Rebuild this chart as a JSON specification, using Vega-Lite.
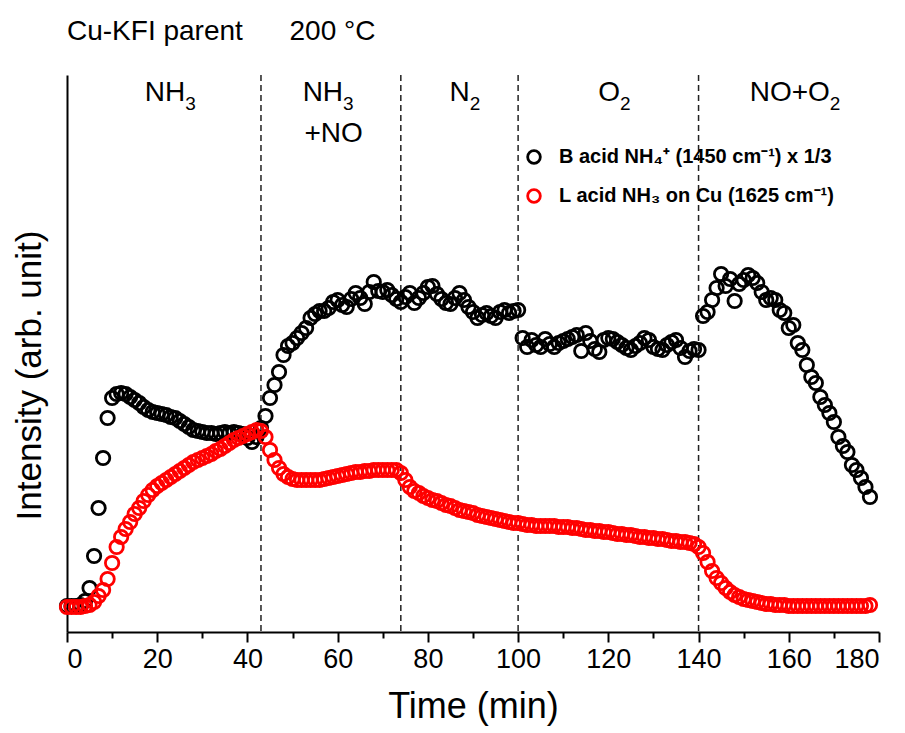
{
  "$schema": "https://vega.github.io/schema/vega-lite/v6.json",
  "width": 812,
  "height": 557,
  "autosize": {"type": "none"},
  "padding": {"left": 67, "top": 75, "right": 26, "bottom": 101},
  "background": "white",
  "title": {"text": "Cu-KFI parent\u00a0\u00a0\u00a0\u00a0\u00a0\u00a0200 °C", "anchor": "start", "frame": "group", "fontSize": 28, "fontWeight": "normal", "font": "Liberation Sans", "color": "#000000", "offset": 28},
  "config": {
    "view": {"stroke": null},
    "font": "Liberation Sans"
  },
  "datasets": {
    "pts": [
      {"t":0,"B":26,"L":25},{"t":1,"B":26,"L":25},{"t":2,"B":26,"L":25},{"t":3,"B":27,"L":25},{"t":4,"B":31,"L":26},
      {"t":5,"B":44,"L":27},{"t":6,"B":76,"L":30},{"t":7,"B":124,"L":36},{"t":8,"B":174,"L":42},{"t":9,"B":214,"L":53},
      {"t":10,"B":234,"L":69},{"t":11,"B":238,"L":85},{"t":12,"B":239,"L":95},{"t":13,"B":238,"L":103},{"t":14,"B":235,"L":110},
      {"t":15,"B":232,"L":118},{"t":16,"B":229,"L":124},{"t":17,"B":225,"L":131},{"t":18,"B":222,"L":137},{"t":19,"B":220,"L":142},
      {"t":20,"B":219,"L":146},{"t":21,"B":218,"L":149},{"t":22,"B":217,"L":152},{"t":23,"B":215,"L":155},{"t":24,"B":214,"L":158},
      {"t":25,"B":211,"L":161},{"t":26,"B":208,"L":164},{"t":27,"B":205,"L":167},{"t":28,"B":202,"L":170},{"t":29,"B":201,"L":172},
      {"t":30,"B":200,"L":174},{"t":31,"B":199,"L":176},{"t":32,"B":199,"L":178},{"t":33,"B":198,"L":181},{"t":34,"B":199,"L":183},
      {"t":35,"B":200,"L":186},{"t":36,"B":199,"L":189},{"t":37,"B":200,"L":192},{"t":38,"B":199,"L":194},{"t":39,"B":198,"L":196},
      {"t":40,"B":194,"L":198},{"t":41,"B":190,"L":200},{"t":42,"B":195,"L":202},{"t":43,"B":204,"L":201},{"t":44,"B":216,"L":195},
      {"t":45,"B":234,"L":182},{"t":46,"B":247,"L":172},{"t":47,"B":260,"L":164},{"t":48,"B":277,"L":158},{"t":49,"B":286,"L":155},
      {"t":50,"B":289,"L":153},{"t":51,"B":294,"L":152},{"t":52,"B":299,"L":152},{"t":53,"B":304,"L":152},{"t":54,"B":314,"L":152},
      {"t":55,"B":318,"L":152},{"t":56,"B":321,"L":152},{"t":57,"B":321,"L":153},{"t":58,"B":324,"L":154},{"t":59,"B":330,"L":155},
      {"t":60,"B":332,"L":156},{"t":61,"B":327,"L":157},{"t":62,"B":325,"L":158},{"t":63,"B":333,"L":159},{"t":64,"B":339,"L":160},
      {"t":65,"B":334,"L":160},{"t":66,"B":328,"L":161},{"t":67,"B":340,"L":161},{"t":68,"B":350,"L":162},{"t":69,"B":341,"L":162},
      {"t":70,"B":340,"L":162},{"t":71,"B":342,"L":162},{"t":72,"B":337,"L":162},{"t":73,"B":333,"L":162},{"t":74,"B":330,"L":159},
      {"t":75,"B":335,"L":152},{"t":76,"B":339,"L":145},{"t":77,"B":329,"L":141},{"t":78,"B":334,"L":139},{"t":79,"B":339,"L":136},
      {"t":80,"B":345,"L":134},{"t":81,"B":346,"L":132},{"t":82,"B":338,"L":131},{"t":83,"B":333,"L":129},{"t":84,"B":329,"L":127},
      {"t":85,"B":328,"L":126},{"t":86,"B":334,"L":124},{"t":87,"B":339,"L":122},{"t":88,"B":332,"L":121},{"t":89,"B":325,"L":120},
      {"t":90,"B":320,"L":119},{"t":91,"B":314,"L":117},{"t":92,"B":317,"L":116},{"t":93,"B":319,"L":115},{"t":94,"B":316,"L":114},
      {"t":95,"B":314,"L":113},{"t":96,"B":320,"L":112},{"t":97,"B":322,"L":111},{"t":98,"B":319,"L":110},{"t":99,"B":321,"L":109},
      {"t":100,"B":322,"L":109},{"t":101,"B":294,"L":108},{"t":102,"B":285,"L":107},{"t":103,"B":292,"L":107},{"t":104,"B":287,"L":106},
      {"t":105,"B":285,"L":106},{"t":106,"B":293,"L":106},{"t":107,"B":288,"L":106},{"t":108,"B":285,"L":106},{"t":109,"B":289,"L":105},
      {"t":110,"B":291,"L":105},{"t":111,"B":293,"L":105},{"t":112,"B":295,"L":104},{"t":113,"B":297,"L":104},{"t":114,"B":281,"L":103},
      {"t":115,"B":299,"L":102},{"t":116,"B":291,"L":102},{"t":117,"B":283,"L":101},{"t":118,"B":280,"L":101},{"t":119,"B":292,"L":100},
      {"t":120,"B":294,"L":100},{"t":121,"B":293,"L":99},{"t":122,"B":290,"L":98},{"t":123,"B":287,"L":98},{"t":124,"B":284,"L":97},
      {"t":125,"B":282,"L":97},{"t":126,"B":286,"L":96},{"t":127,"B":289,"L":95},{"t":128,"B":294,"L":95},{"t":129,"B":292,"L":94},
      {"t":130,"B":285,"L":94},{"t":131,"B":283,"L":93},{"t":132,"B":282,"L":93},{"t":133,"B":287,"L":92},{"t":134,"B":290,"L":91},
      {"t":135,"B":292,"L":91},{"t":136,"B":284,"L":90},{"t":137,"B":275,"L":90},{"t":138,"B":281,"L":89},{"t":139,"B":283,"L":88},
      {"t":140,"B":282,"L":85},{"t":141,"B":316,"L":79},{"t":142,"B":320,"L":70},{"t":143,"B":332,"L":61},{"t":144,"B":344,"L":54},
      {"t":145,"B":358,"L":49},{"t":146,"B":346,"L":44},{"t":147,"B":353,"L":40},{"t":148,"B":331,"L":37},{"t":149,"B":348,"L":35},
      {"t":150,"B":352,"L":33},{"t":151,"B":357,"L":32},{"t":152,"B":354,"L":31},{"t":153,"B":349,"L":30},{"t":154,"B":340,"L":29},
      {"t":155,"B":332,"L":28},{"t":156,"B":334,"L":28},{"t":157,"B":332,"L":27},{"t":158,"B":322,"L":27},{"t":159,"B":319,"L":27},
      {"t":160,"B":304,"L":26},{"t":161,"B":307,"L":26},{"t":162,"B":289,"L":26},{"t":163,"B":282,"L":26},{"t":164,"B":267,"L":26},
      {"t":165,"B":255,"L":26},{"t":166,"B":249,"L":26},{"t":167,"B":235,"L":26},{"t":168,"B":227,"L":26},{"t":169,"B":219,"L":26},
      {"t":170,"B":210,"L":26},{"t":171,"B":195,"L":26},{"t":172,"B":186,"L":26},{"t":173,"B":180,"L":26},{"t":174,"B":167,"L":26},
      {"t":175,"B":162,"L":26},{"t":176,"B":154,"L":26},{"t":177,"B":145,"L":26},{"t":178,"B":135,"L":27}
    ],
    "lines": [{"t":43},{"t":74},{"t":100},{"t":140}],
    "phases": [
      {"t":26.2,"main":"NH","sub":"3"},
      {"t":61.2,"main":"NH","sub":"3"},
      {"t":89.3,"main":"N","sub":"2"},
      {"t":122.6,"main":"O","sub":"2"},
      {"t":169.1,"main":"NO+O","sub":"2"}
    ],
    "extra": [
      {"t":59.1,"label":"+NO"}
    ]
  },
  "layer": [
    {
      "data": {"name": "lines"},
      "mark": {"type": "rule", "strokeDash": [6, 4], "strokeWidth": 1.5, "color": "#222222"},
      "encoding": {
        "x": {"field": "t", "type": "quantitative", "scale": {"domain": [0, 180], "nice": false, "zero": false}}
      }
    },
    {
      "data": {"name": "pts"},
      "mark": {"type": "point", "shape": "circle", "filled": false, "size": 180, "strokeWidth": 2.8, "opacity": 1},
      "encoding": {
        "x": {"field": "t", "type": "quantitative", "scale": {"domain": [0, 180], "nice": false, "zero": false},
          "axis": {
            "values": [0,10,20,30,40,50,60,70,80,90,100,110,120,130,140,150,160,170,180],
            "labelExpr": "datum.value % 20 === 0 ? datum.label : ''",
            "tickSize": {"condition": {"test": "datum.value % 20 === 0", "value": 10}, "value": 6},
            "tickWidth": 2, "tickColor": "#000000",
            "domainWidth": 2, "domainColor": "#000000",
            "labelFontSize": 27, "labelColor": "#000000", "labelPadding": 4, "labelFont": "Liberation Sans",
            "grid": false,
            "title": "Time (min)", "titleFontSize": 36, "titleFontWeight": "normal", "titleColor": "#000000", "titlePadding": 17, "titleFont": "Liberation Sans"
          }},
        "y": {"field": "B", "type": "quantitative", "scale": {"domain": [0, 557], "nice": false, "zero": false},
          "axis": {
            "ticks": false, "labels": false, "grid": false,
            "domainWidth": 2, "domainColor": "#000000",
            "title": "Intensity (arb. unit)", "titleFontSize": 35, "titleFontWeight": "normal", "titleColor": "#000000",
            "titleFont": "Liberation Sans", "titleX": -38, "titleY": 300, "titleBaseline": "middle", "titleAlign": "center", "titleAngle": -90
          }},
        "color": {"datum": "B", "type": "nominal",
          "scale": {"domain": ["B", "L"], "range": ["#000000", "#ff0000"]},
          "legend": {
            "title": null, "orient": "none", "legendX": 457, "legendY": 72,
            "padding": 0, "rowPadding": 15, "symbolType": "circle", "symbolSize": 160, "symbolStrokeWidth": 2.8,
            "symbolFillColor": "transparent",
            "labelFontSize": 20, "labelFontWeight": "bold", "labelFont": "Liberation Sans", "labelOffset": 15, "labelLimit": 500,
            "labelExpr": "datum.value == 'B' ? 'B acid NH₄⁺ (1450 cm⁻¹) x 1/3' : 'L acid NH₃ on Cu (1625 cm⁻¹)'",
            "encode": {"labels": {"update": {"fill": {"signal": "datum.value == 'B' ? '#000000' : '#ff0000'"}}}}
          }}
      }
    },
    {
      "data": {"name": "pts"},
      "mark": {"type": "point", "shape": "circle", "filled": false, "size": 180, "strokeWidth": 2.8, "opacity": 1},
      "encoding": {
        "x": {"field": "t", "type": "quantitative"},
        "y": {"field": "L", "type": "quantitative"},
        "color": {"datum": "L", "type": "nominal"}
      }
    },
    {
      "data": {"name": "phases"},
      "mark": {"type": "text", "fontSize": 28, "font": "Liberation Sans", "color": "#000000", "baseline": "alphabetic", "align": "right"},
      "encoding": {
        "x": {"field": "t", "type": "quantitative"},
        "y": {"datum": 531},
        "text": {"field": "main"}
      }
    },
    {
      "data": {"name": "phases"},
      "mark": {"type": "text", "fontSize": 19, "font": "Liberation Sans", "color": "#000000", "baseline": "alphabetic", "align": "left"},
      "encoding": {
        "x": {"field": "t", "type": "quantitative"},
        "y": {"datum": 522},
        "text": {"field": "sub"}
      }
    },
    {
      "data": {"name": "extra"},
      "mark": {"type": "text", "fontSize": 28, "font": "Liberation Sans", "color": "#000000", "baseline": "alphabetic", "align": "center"},
      "encoding": {
        "x": {"field": "t", "type": "quantitative"},
        "y": {"datum": 490},
        "text": {"field": "label"}
      }
    }
  ]
}
